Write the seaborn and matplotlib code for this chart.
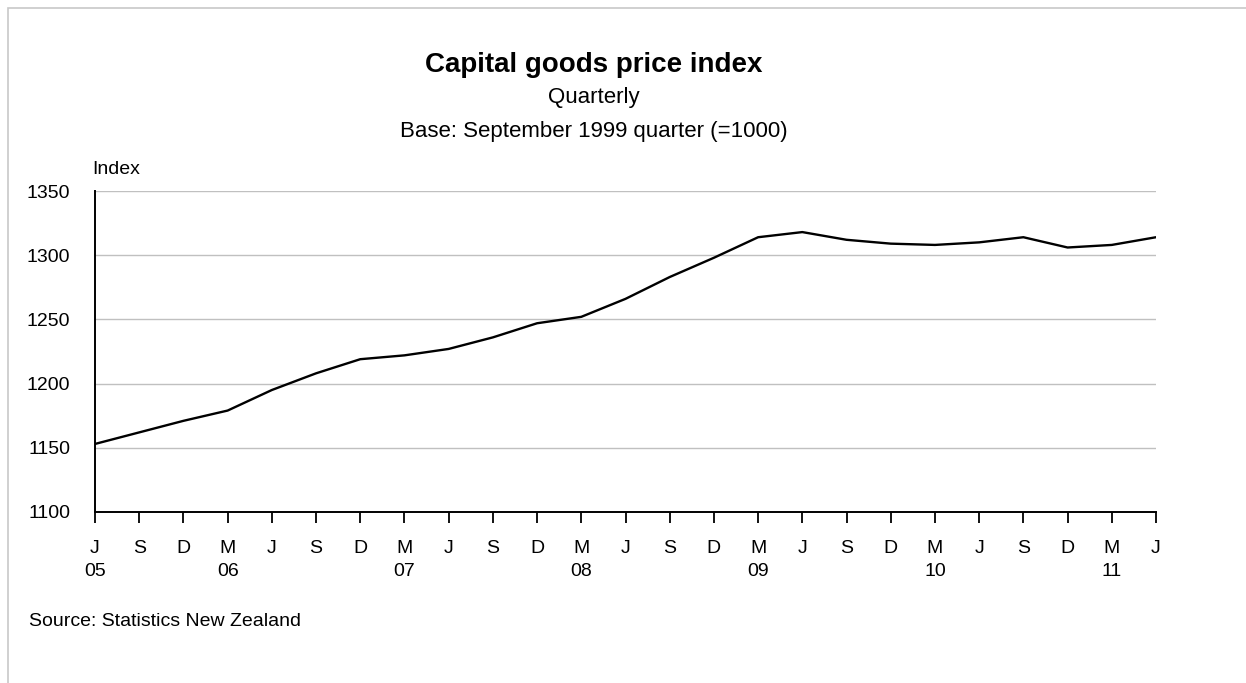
import numpy as np
import pandas as pd
import seaborn as sns
import matplotlib.pyplot as plt
from matplotlib.patches import Rectangle

# Data
quarters = ['J', 'S', 'D', 'M', 'J', 'S', 'D', 'M', 'J', 'S', 'D', 'M', 'J',
            'S', 'D', 'M', 'J', 'S', 'D', 'M', 'J', 'S', 'D', 'M', 'J']
years = ['05', '', '', '06', '', '', '', '07', '', '', '', '08', '',
         '', '', '09', '', '', '', '10', '', '', '', '11', '']
index_values = [1153, 1162, 1171, 1179, 1195, 1208, 1219, 1222, 1227,
                1236, 1247, 1252, 1266, 1283, 1298, 1314, 1318, 1312,
                1309, 1308, 1310, 1314, 1306, 1308, 1314]
y_ticks = [1100, 1150, 1200, 1250, 1300, 1350]

df = pd.DataFrame({'pos': np.arange(len(index_values)), 'index': index_values})

sns.set_style('white')
plt.rcParams['font.family'] = ['Liberation Sans', 'DejaVu Sans']
plt.rcParams['text.color'] = 'black'
plt.rcParams['xtick.color'] = 'black'
plt.rcParams['ytick.color'] = 'black'

fig = plt.figure(figsize=(12.46, 6.83), dpi=100)
ax = fig.add_axes([95 / 1246, 1 - 512 / 683, (1156 - 95) / 1246, (512 - 191) / 683])

# Frame around the whole picture
fig.patches.append(Rectangle((8 / 1246, -0.01), 1.02, 1 - 8 / 683 + 0.01,
                             transform=fig.transFigure, fill=False,
                             edgecolor='#c8c8c8', linewidth=1.2))

# Gridlines
for y in y_ticks[1:]:
    ax.axhline(y, color='#c0c0c0', linewidth=1.0, zorder=0)

sns.lineplot(data=df, x='pos', y='index', color='black', linewidth=1.7, ax=ax)

ax.set_xlim(0, len(index_values) - 1)
ax.set_ylim(1100, 1350)
ax.set_yticks(y_ticks)
ax.set_yticklabels([str(v) for v in y_ticks], fontsize=14)
ax.set_xticks(df['pos'])
ax.set_xticklabels([q + '\n' + y for q, y in zip(quarters, years)], fontsize=14,
                   linespacing=1.5)
ax.tick_params(axis='x', bottom=True, direction='out', length=8, width=1.3, pad=12)
ax.tick_params(axis='y', left=False, length=0, pad=18)
ax.set_xlabel('')
ax.set_ylabel('')

sns.despine(ax=ax, top=True, right=True)
for s in ['left', 'bottom']:
    ax.spines[s].set_color('black')
    ax.spines[s].set_linewidth(1.4)

# Titles and notes
fig.text(594 / 1246, 1 - 65 / 683, 'Capital goods price index', ha='center', va='center',
         fontsize=20, fontweight='bold')
fig.text(594 / 1246, 1 - 97 / 683, 'Quarterly', ha='center', va='center', fontsize=16)
fig.text(594 / 1246, 1 - 131 / 683, 'Base: September 1999 quarter (=1000)', ha='center',
         va='center', fontsize=16)
fig.text(92 / 1246, 1 - 169 / 683, 'Index', ha='left', va='center', fontsize=14)
fig.text(29 / 1246, 1 - 622 / 683, 'Source: Statistics New Zealand', ha='left',
         va='center', fontsize=14)

fig.savefig('out.png', dpi=100)
